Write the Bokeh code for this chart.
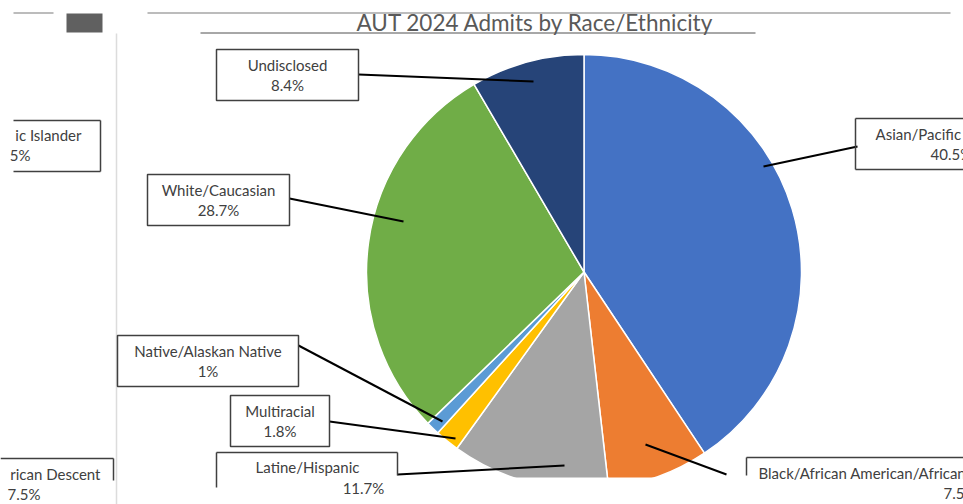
import math
from bokeh.plotting import figure
from bokeh.models import Range1d, ColumnDataSource
from bokeh.core.properties import value
from bokeh.embed import file_html
from bokeh.resources import INLINE

# ---------------- data ----------------
categories = ["Asian/Pacific Islander", "Black/African American/African Descent",
              "Latine/Hispanic", "Multiracial", "Native/Alaskan Native",
              "White/Caucasian", "Undisclosed"]
percents = [40.5, 7.5, 11.7, 1.8, 1.0, 28.7, 8.4]
pct_labels = ["40.5%", "7.5%", "11.7%", "1.8%", "1%", "28.7%", "8.4%"]
colors = ["#4472C4", "#ED7D31", "#A5A5A5", "#FFC000", "#5B9BD5", "#70AD47", "#264478"]
title = "AUT 2024 Admits by Race/Ethnicity"

# ---------------- layout (image pixel coords, y down) ----------------
W, H = 963, 504
def Y(iy):
    return 504 - iy

CX, CY, R = 583.5, 271.5, 217.5
FONT = value("Lato")
TXT = "#404040"
LBL = "15px"

p = figure(width=W, height=H, output_backend="svg", toolbar_location=None,
           x_range=Range1d(0, 963), y_range=Range1d(0, 504),
           x_axis_location=None, y_axis_location=None, min_border=0)
p.grid.visible = False
p.outline_line_color = None
p.background_fill_color = "white"

# pie wedges (start at 12 o'clock, clockwise)
total = sum(percents)
starts, ends = [], []
c = 0.0
for v in percents:
    a0 = math.pi / 2 - 2 * math.pi * c / total
    c += v
    a1 = math.pi / 2 - 2 * math.pi * c / total
    starts.append(a1)
    ends.append(a0)
src = ColumnDataSource(dict(start=starts, end=ends, color=colors, cat=categories))
p.wedge(x=CX, y=Y(CY), radius=R, radius_units="screen", start_angle="start",
        end_angle="end", fill_color="color", line_color="white", line_width=1.5,
        source=src)

# cut-off bottom of the screenshot
p.quad(left=400, right=745, top=Y(477), bottom=Y(504), fill_color="white", line_color=None)

# ---- decorative strokes seen in the screenshot ----
p.segment(x0=[13, 147], y0=[Y(12.5), Y(12.5)], x1=[53, 950], y1=[Y(12.5), Y(12.5)],
          line_color="#a6a6a6", line_width=1.5)
p.quad(left=66, right=102, top=Y(13), bottom=Y(32), fill_color="#606060", line_color=None)
p.segment(x0=[116], y0=[Y(33)], x1=[116], y1=[Y(504)], line_color="#dcdcdc", line_width=1.5)
p.segment(x0=[200], y0=[Y(32.5)], x1=[755], y1=[Y(32.5)], line_color="#505050", line_width=1)

# title
p.text(x=[356], y=[Y(22)], text=[title], text_font=FONT, text_font_size="22.5px",
       text_color="#595959", text_baseline="middle", text_align="left")

# ---- leader lines (box edge -> slice) ----
lead = dict(
    x0=[857, 645, 397, 329, 298, 289, 358],
    y0=[146, 444, 474, 421, 345, 198, 74],
    x1=[763, 726, 564, 455, 442, 403, 533],
    y1=[166, 474, 465, 438, 421, 221, 81],
)
p.segment(x0=lead["x0"], y0=[Y(v) for v in lead["y0"]], x1=lead["x1"],
          y1=[Y(v) for v in lead["y1"]], line_color="black", line_width=2)

# ---- full label boxes ----
boxes = {  # index: (left, right, top, bottom)
    3: (230, 329, 395, 446),
    4: (117, 298, 335, 386),
    5: (147, 289, 174, 225),
    6: (216, 358, 49, 100),
}
for i, (l, r, t, b) in boxes.items():
    p.quad(left=l, right=r, top=Y(t), bottom=Y(b), fill_color="white",
           line_color="#404040", line_width=1.5)
    cx = (l + r) / 2
    p.text(x=[cx, cx], y=[Y(t + 15), Y(t + 35)], text=[categories[i], pct_labels[i]],
           text_font=FONT, text_font_size=LBL, text_color=TXT,
           text_align="center", text_baseline="middle")

# ---- partial boxes (cut / wrapped in the screenshot) ----
seg_x0 = [216, 216, 397,   746, 746,   0, 113,   13, 100, 13,   855, 855, 855]
seg_y0 = [452, 452, 452,   457, 457,   458, 458,  120, 120, 171,  118, 118, 169]
seg_x1 = [397, 216, 397,   963, 746,   113, 113,  100, 100, 100,  963, 855, 963]
seg_y1 = [452, 487, 475,   457, 475,   458, 480,  120, 171, 171,  118, 169, 169]
p.segment(x0=seg_x0, y0=[Y(v) for v in seg_y0], x1=seg_x1, y1=[Y(v) for v in seg_y1],
          line_color="#404040", line_width=1.5)

# Latine/Hispanic
p.text(x=[307, 363], y=[Y(466), Y(487)], text=[categories[2], pct_labels[2]],
       text_font=FONT, text_font_size=LBL, text_color=TXT,
       text_align="center", text_baseline="middle")
# Asian/Pacific Islander (right, clipped) + wrapped remainder (left)
p.text(x=[875, 930], y=[Y(133), Y(153)], text=[categories[0], pct_labels[0]],
       text_font=FONT, text_font_size=LBL, text_color=TXT,
       text_align="left", text_baseline="middle")
p.text(x=[81, 30], y=[Y(134), Y(154)], text=["ic Islander", pct_labels[0][-2:]],
       text_font=FONT, text_font_size=LBL, text_color=TXT,
       text_align="right", text_baseline="middle")
# Black/African American/African Descent (right, clipped) + wrapped remainder (left)
p.text(x=[758, 943], y=[Y(472), Y(492)], text=[categories[1], pct_labels[1]],
       text_font=FONT, text_font_size=LBL, text_color=TXT,
       text_align="left", text_baseline="middle")
p.text(x=[100, 40], y=[Y(473), Y(493)], text=["rican Descent", pct_labels[1]],
       text_font=FONT, text_font_size=LBL, text_color=TXT,
       text_align="right", text_baseline="middle")

open("out.html", "w").write(file_html(p, INLINE))
